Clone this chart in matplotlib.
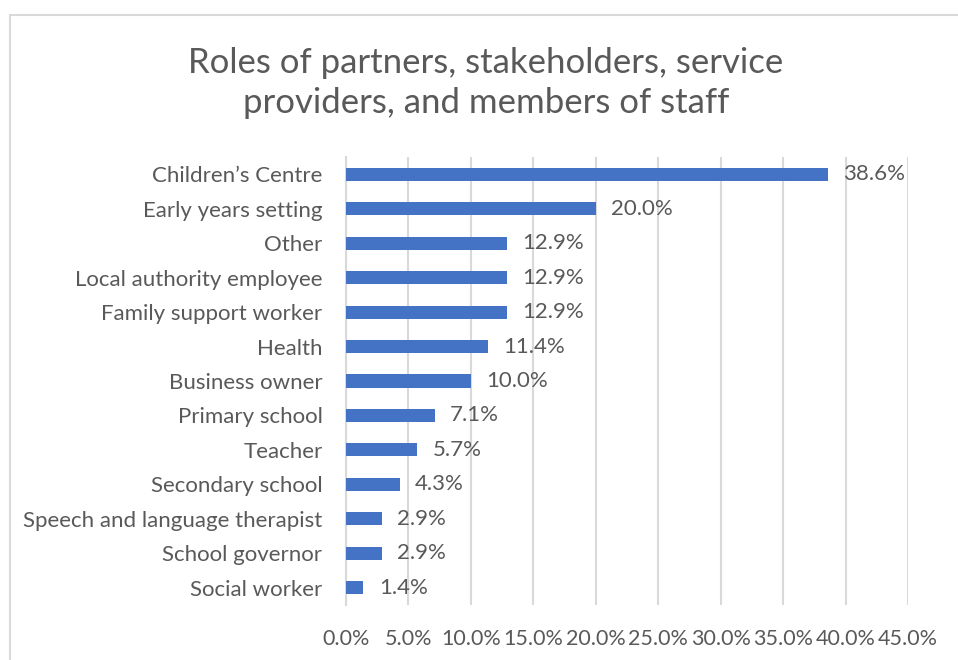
import matplotlib
matplotlib.use("Agg")
import matplotlib.pyplot as plt
from matplotlib.patches import Rectangle

categories = [
    "Children\u2019s Centre",
    "Early years setting",
    "Other",
    "Local authority employee",
    "Family support worker",
    "Health",
    "Business owner",
    "Primary school",
    "Teacher",
    "Secondary school",
    "Speech and language therapist",
    "School governor",
    "Social worker",
]
values = [38.6, 20.0, 12.9, 12.9, 12.9, 11.4, 10.0, 7.1, 5.7, 4.3, 2.9, 2.9, 1.4]
x_ticks = [0, 5, 10, 15, 20, 25, 30, 35, 40, 45]
title = "Roles of partners, stakeholders, service\nproviders, and members of staff"

bar_color = "#4472C4"
text_color = "#595959"
grid_color = "#D9D9D9"
font = ["Lato", "DejaVu Sans"]

fig = plt.figure(figsize=(9.58, 6.6), dpi=100)
fig.patches.append(Rectangle((10 / 958, -0.05), 1.2, 1 - 15 / 660 + 0.05,
                             transform=fig.transFigure, fill=False,
                             edgecolor=grid_color, linewidth=1.5))

ax = fig.add_axes([346 / 958, 1 - 605 / 660, (908 - 346) / 958, (605 - 157) / 660])
y = list(range(len(categories)))
ax.barh(y, values, height=0.38, color=bar_color, zorder=3)
ax.set_ylim(len(categories) - 0.5, -0.5)
ax.set_xlim(0, 45)
ax.set_xticks(x_ticks)
ax.set_xticklabels([f"{t:.1f}%" for t in x_ticks], fontsize=15.5, color=text_color, family=font)
ax.set_yticks(y)
ax.set_yticklabels(categories, fontsize=16, color=text_color, family=font)
ax.tick_params(axis="x", length=0, pad=17)
ax.tick_params(axis="y", length=0, pad=17)
ax.grid(axis="x", color=grid_color, linewidth=1.5, zorder=0)
for s in ["top", "right", "bottom"]:
    ax.spines[s].set_visible(False)
ax.spines["left"].set_color(grid_color)
ax.spines["left"].set_linewidth(1.5)

for yi, v in zip(y, values):
    ax.annotate(f"{v:.1f}%", (v, yi), xytext=(11, 0), textcoords="offset points",
                va="center", ha="left", fontsize=16, color=text_color, family=font)

fig.text(486 / 958, 1 - 83 / 660, title, ha="center", va="center", fontsize=25,
         color=text_color, family=font, linespacing=1.3)

fig.savefig("out.png", dpi=100)
